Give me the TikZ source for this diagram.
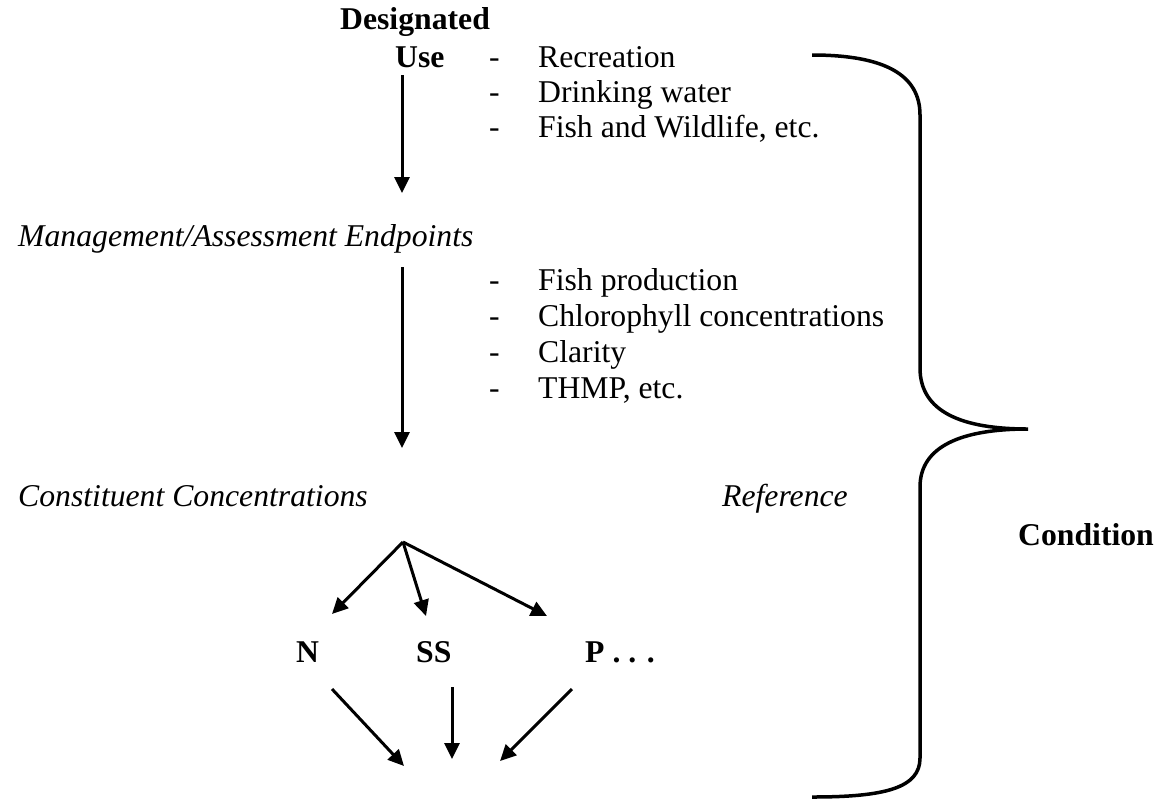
\documentclass[tikz,border=0pt]{standalone}
\usepackage{fontspec}
\setmainfont{Liberation Serif}
\usetikzlibrary{arrows.meta}
\tikzset{
  txt/.style={inner sep=0pt, anchor=base west, font=\fontsize{31.7}{36}\selectfont},
  btxt/.style={txt, font=\fontsize{31.7}{36}\selectfont\bfseries},
  itxt/.style={txt, font=\fontsize{31.7}{36}\selectfont\itshape},
  arr/.style={line width=3pt, -{Triangle[length=16pt,width=15pt]}},
  brace/.style={line width=3.5pt}
}
\begin{document}
\begin{tikzpicture}[x=1pt,y=-1pt]
\useasboundingbox (0,0) rectangle (1161,801);
% top
\node[btxt] (des) at (340,29) {Designated};
\node[btxt] (use) at (395,67) {Use};
\node[txt] (d1) at (489,67) {-};
\node[txt] (rec) at (538,67) {Recreation};
\node[txt] (d2) at (489,102) {-};
\node[txt] (dw) at (538,102) {Drinking water};
\node[txt] (d3) at (489,137) {-};
\node[txt] (fw) at (538,137) {Fish and Wildlife, etc.};
\node[itxt] (mgmt) at (18,246) {Management/Assessment Endpoints};
\node[txt] (d4) at (489,290) {-};
\node[txt] (fp) at (538,290) {Fish production};
\node[txt] (d5) at (489,326) {-};
\node[txt] (chl) at (538,326) {Chlorophyll concentrations};
\node[txt] (d6) at (489,362) {-};
\node[txt] (cla) at (538,362) {Clarity};
\node[txt] (d7) at (489,398) {-};
\node[txt] (thmp) at (538,398) {THMP, etc.};
\node[itxt] (cons) at (18,506) {Constituent Concentrations};
\node[itxt] (ref) at (722,506) {Reference};
\node[btxt] (cond) at (1018,545) {Condition};
\node[btxt] (N) at (296,662) {N};
\node[btxt] (SS) at (416,662) {SS};
\node[btxt] (P) at (585,662) {P . . .};
% connector coordinates
\coordinate (a1s) at (402,75);
\coordinate (a1e) at (402,193);
\coordinate (a2s) at (402,267);
\coordinate (a2e) at (402,448);
\coordinate (br) at (403,542);
\coordinate (nE) at (332,614);
\coordinate (ssE) at (426,616);
\coordinate (pE) at (547,616);
\coordinate (nS) at (332,689);
\coordinate (ssS) at (452,687);
\coordinate (pS) at (572,689);
\coordinate (x1) at (404,766);
\coordinate (x2) at (452,759);
\coordinate (x3) at (500,761);
\draw[arr] (a1s) -- (a1e);
\draw[arr] (a2s) -- (a2e);
\draw[arr] (br) -- (nE);
\draw[arr] (br) -- (ssE);
\draw[arr] (br) -- (pE);
\draw[arr] (nS) -- (x1);
\draw[arr] (ssS) -- (x2);
\draw[arr] (pS) -- (x3);
% brace
\coordinate (bt) at (812,55);
\coordinate (bm) at (1028,429);
\coordinate (bb) at (812,797);
\draw[brace] (bt) .. controls (885,55) and (920,75) .. (920,115)
  -- (920,368) .. controls (920,412) and (962,429) .. (bm)
  .. controls (962,429) and (920,446) .. (920,487)
  -- (920,758) .. controls (920,788) and (885,797) .. (bb);
\end{tikzpicture}
\end{document}
